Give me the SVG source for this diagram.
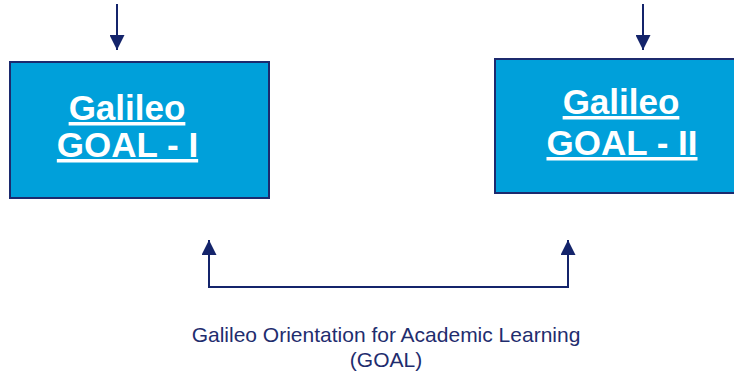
<svg xmlns="http://www.w3.org/2000/svg" width="734" height="374" viewBox="0 0 734 374">
<defs>
<style>
.box{fill:#00A0DA;stroke:#1C2A6E;stroke-width:2}
.lbl{font-family:"Liberation Sans",Arial,sans-serif;font-weight:bold;font-size:35px;fill:#FFFFFF;text-decoration:underline;text-anchor:middle}
.line{stroke:#14246B;stroke-width:2;fill:none}
.cap{font-family:"Liberation Sans",Arial,sans-serif;font-size:21px;fill:#1F2D6E;text-anchor:middle}
</style>
<marker id="ah" viewBox="0 0 10 10" refX="10" refY="5" markerWidth="7.5" markerHeight="7.5" markerUnits="strokeWidth" orient="auto">
<path d="M0,0 L10,5 L0,10 z" fill="#14246B"/>
</marker>
</defs>
<rect width="734" height="374" fill="#FFFFFF"/>
<g id="node-goal-1">
<rect class="box" x="10" y="62" width="259" height="136"/>
<text class="lbl" x="127" y="120">Galileo</text>
<text class="lbl" x="127.5" y="157">GOAL - I</text>
</g>
<g id="node-goal-2">
<rect class="box" x="495" y="59" width="245" height="134"/>
<text class="lbl" x="621" y="114">Galileo</text>
<text class="lbl" x="622" y="155">GOAL - II</text>
</g>
<g id="connectors">
<line class="line" x1="117" y1="4" x2="117" y2="50" marker-end="url(#ah)"/>
<line class="line" x1="643" y1="4" x2="643" y2="50" marker-end="url(#ah)"/>
<line class="line" x1="209" y1="287" x2="568" y2="287"/>
<line class="line" x1="209" y1="288" x2="209" y2="240" marker-end="url(#ah)"/>
<line class="line" x1="568" y1="288" x2="568" y2="240" marker-end="url(#ah)"/>
</g>
<g id="caption">
<text class="cap" x="386" y="342">Galileo Orientation for Academic Learning</text>
<text class="cap" x="386" y="367">(GOAL)</text>
</g>
</svg>
